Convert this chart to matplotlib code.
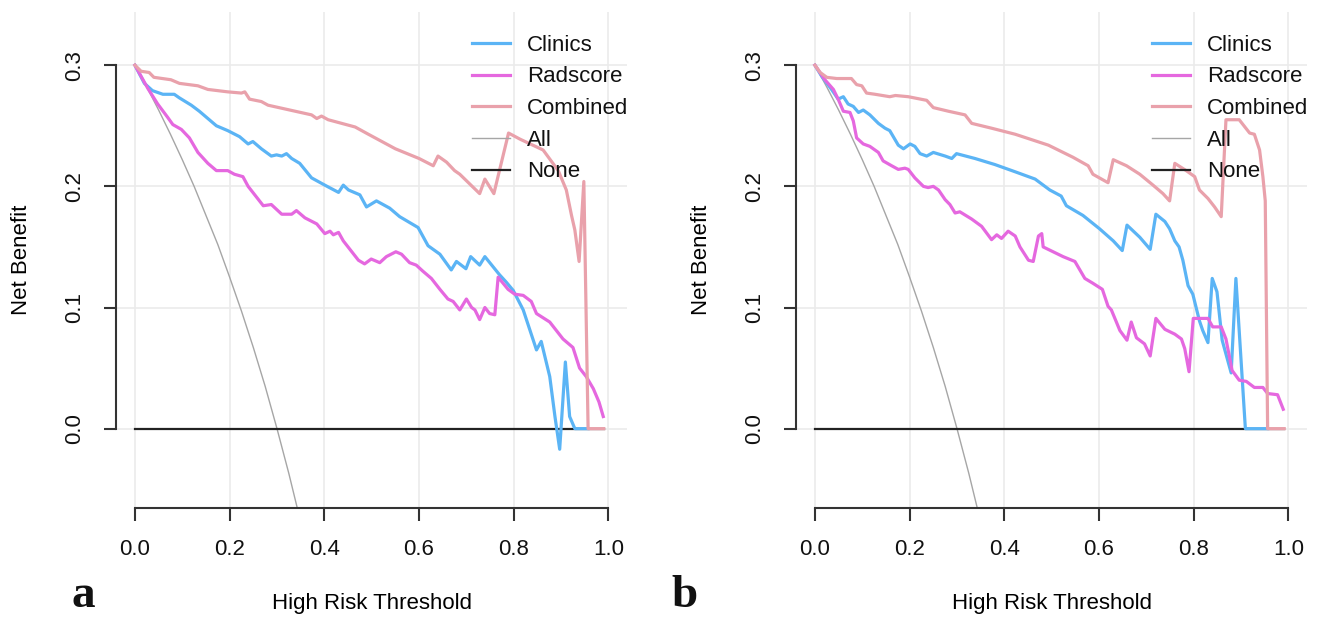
"""Decision curves (net benefit vs. high-risk threshold) for the Clinics,
Radscore and Combined models, panel a and panel b side by side.

Values were read off the published figure by eye.
"""
import matplotlib
matplotlib.use("Agg")
import matplotlib.pyplot as plt

# ---- panel a -------------------------------------------------------------
A_CLIN_THR = [0.000, 0.020, 0.037, 0.059, 0.083, 0.094, 0.119, 0.136, 0.154,
              0.172, 0.196, 0.221, 0.239, 0.249, 0.267, 0.288, 0.299, 0.310,
              0.320, 0.331, 0.348, 0.373, 0.401, 0.430, 0.440, 0.451, 0.475,
              0.489, 0.510, 0.538, 0.559, 0.598, 0.619, 0.644, 0.668, 0.679,
              0.699, 0.709, 0.728, 0.739, 0.770, 0.784, 0.799, 0.820, 0.848,
              0.858, 0.876, 0.887, 0.897, 0.909, 0.918, 0.929, 0.957]
A_CLIN_NB = [0.300, 0.285, 0.279, 0.276, 0.276, 0.273, 0.267, 0.262, 0.256,
             0.250, 0.246, 0.241, 0.235, 0.237, 0.231, 0.225, 0.226, 0.225,
             0.227, 0.223, 0.219, 0.207, 0.201, 0.195, 0.201, 0.197, 0.193,
             0.183, 0.188, 0.182, 0.175, 0.166, 0.151, 0.144, 0.131, 0.138,
             0.132, 0.142, 0.135, 0.142, 0.127, 0.121, 0.114, 0.098, 0.065,
             0.072, 0.043, 0.010, -0.017, 0.055, 0.010, 0.000, 0.000]

A_RAD_THR = [0.000, 0.027, 0.048, 0.069, 0.080, 0.098, 0.115, 0.133, 0.154,
             0.172, 0.196, 0.210, 0.228, 0.239, 0.253, 0.271, 0.288, 0.310,
             0.331, 0.341, 0.359, 0.384, 0.401, 0.412, 0.419, 0.430, 0.440,
             0.454, 0.472, 0.485, 0.499, 0.517, 0.531, 0.551, 0.563, 0.580,
             0.594, 0.608, 0.626, 0.644, 0.661, 0.672, 0.686, 0.700, 0.711,
             0.718, 0.728, 0.739, 0.749, 0.760, 0.767, 0.788, 0.802, 0.820,
             0.837, 0.848, 0.876, 0.904, 0.925, 0.939, 0.953, 0.968, 0.980,
             0.989]
A_RAD_NB = [0.300, 0.281, 0.268, 0.257, 0.251, 0.247, 0.240, 0.228, 0.219,
            0.213, 0.213, 0.210, 0.208, 0.200, 0.193, 0.184, 0.185, 0.177,
            0.177, 0.180, 0.174, 0.169, 0.161, 0.163, 0.160, 0.162, 0.155,
            0.148, 0.139, 0.136, 0.140, 0.137, 0.142, 0.146, 0.144, 0.137,
            0.135, 0.130, 0.124, 0.115, 0.107, 0.105, 0.098, 0.107, 0.100,
            0.098, 0.090, 0.100, 0.095, 0.094, 0.125, 0.115, 0.111, 0.110,
            0.105, 0.095, 0.088, 0.074, 0.067, 0.050, 0.043, 0.033, 0.022,
            0.010]

A_COMB_THR = [0.000, 0.013, 0.030, 0.040, 0.076, 0.094, 0.133, 0.154, 0.196,
              0.225, 0.232, 0.242, 0.267, 0.281, 0.373, 0.384, 0.394, 0.408,
              0.465, 0.493, 0.550, 0.600, 0.630, 0.640, 0.658, 0.675, 0.686,
              0.707, 0.728, 0.739, 0.758, 0.789, 0.813, 0.862, 0.894, 0.911,
              0.922, 0.929, 0.938, 0.948, 0.957, 0.990]
A_COMB_NB = [0.300, 0.295, 0.294, 0.290, 0.288, 0.285, 0.283, 0.280, 0.278,
             0.277, 0.278, 0.272, 0.270, 0.267, 0.259, 0.256, 0.258, 0.255,
             0.249, 0.243, 0.231, 0.223, 0.217, 0.225, 0.220, 0.213, 0.210,
             0.202, 0.194, 0.206, 0.194, 0.244, 0.239, 0.230, 0.213, 0.197,
             0.176, 0.164, 0.138, 0.204, 0.000, 0.000]

# ---- panel b -------------------------------------------------------------
B_CLIN_THR = [0.000, 0.014, 0.035, 0.049, 0.060, 0.070, 0.081, 0.092, 0.102,
              0.116, 0.134, 0.148, 0.158, 0.176, 0.187, 0.201, 0.211, 0.222,
              0.236, 0.250, 0.275, 0.289, 0.299, 0.338, 0.380, 0.423, 0.465,
              0.496, 0.520, 0.531, 0.566, 0.601, 0.630, 0.649, 0.659, 0.686,
              0.708, 0.720, 0.739, 0.749, 0.760, 0.769, 0.777, 0.788, 0.798,
              0.812, 0.819, 0.830, 0.839, 0.849, 0.860, 0.879, 0.889, 0.909,
              0.956]
B_CLIN_NB = [0.300, 0.291, 0.280, 0.272, 0.274, 0.268, 0.266, 0.261, 0.263,
             0.259, 0.252, 0.248, 0.246, 0.234, 0.231, 0.235, 0.233, 0.227,
             0.225, 0.228, 0.225, 0.223, 0.227, 0.223, 0.218, 0.212, 0.206,
             0.197, 0.192, 0.184, 0.176, 0.165, 0.155, 0.147, 0.168, 0.158,
             0.148, 0.177, 0.171, 0.165, 0.155, 0.150, 0.139, 0.118, 0.111,
             0.089, 0.081, 0.071, 0.124, 0.113, 0.073, 0.046, 0.124, 0.000,
             0.000]

B_RAD_THR = [0.000, 0.021, 0.039, 0.049, 0.060, 0.074, 0.081, 0.088, 0.102,
             0.116, 0.134, 0.144, 0.162, 0.176, 0.190, 0.197, 0.211, 0.229,
             0.239, 0.250, 0.261, 0.275, 0.285, 0.296, 0.306, 0.331, 0.352,
             0.373, 0.384, 0.394, 0.408, 0.423, 0.433, 0.451, 0.461, 0.472,
             0.479, 0.482, 0.503, 0.524, 0.549, 0.570, 0.587, 0.607, 0.619,
             0.626, 0.644, 0.659, 0.668, 0.679, 0.696, 0.708, 0.720, 0.739,
             0.760, 0.774, 0.781, 0.790, 0.799, 0.830, 0.840, 0.858, 0.868,
             0.881, 0.896, 0.911, 0.928, 0.946, 0.956, 0.977, 0.989]
B_RAD_NB = [0.300, 0.288, 0.280, 0.272, 0.262, 0.261, 0.254, 0.240, 0.235,
            0.233, 0.228, 0.221, 0.217, 0.214, 0.215, 0.214, 0.207, 0.200,
            0.199, 0.200, 0.197, 0.189, 0.185, 0.178, 0.179, 0.173, 0.167,
            0.156, 0.160, 0.157, 0.163, 0.159, 0.150, 0.139, 0.138, 0.159,
            0.161, 0.150, 0.146, 0.142, 0.138, 0.124, 0.120, 0.115, 0.101,
            0.098, 0.081, 0.073, 0.088, 0.075, 0.070, 0.060, 0.091, 0.082,
            0.078, 0.074, 0.066, 0.047, 0.091, 0.091, 0.084, 0.084, 0.074,
            0.048, 0.040, 0.039, 0.034, 0.034, 0.029, 0.028, 0.016]

B_COMB_THR = [0.000, 0.011, 0.025, 0.046, 0.077, 0.088, 0.099, 0.109, 0.127,
              0.158, 0.170, 0.197, 0.236, 0.250, 0.282, 0.317, 0.331, 0.373,
              0.423, 0.493, 0.545, 0.577, 0.587, 0.619, 0.630, 0.658, 0.686,
              0.714, 0.735, 0.749, 0.760, 0.784, 0.802, 0.812, 0.830, 0.844,
              0.858, 0.868, 0.896, 0.918, 0.928, 0.939, 0.946, 0.951, 0.956,
              0.991]
B_COMB_NB = [0.300, 0.294, 0.290, 0.289, 0.289, 0.284, 0.283, 0.277, 0.276,
             0.274, 0.275, 0.274, 0.271, 0.265, 0.262, 0.259, 0.252, 0.248,
             0.243, 0.234, 0.224, 0.217, 0.210, 0.203, 0.222, 0.217, 0.210,
             0.201, 0.194, 0.188, 0.219, 0.213, 0.208, 0.197, 0.190, 0.183,
             0.175, 0.255, 0.255, 0.244, 0.243, 0.230, 0.208, 0.188, 0.000,
             0.000]

# treat-all and treat-none references (same in both panels)
ALL_THR = [0.000, 0.025, 0.050, 0.075, 0.100, 0.125, 0.150, 0.175, 0.200,
           0.225, 0.250, 0.275, 0.300, 0.325, 0.350]
ALL_NB = [0.300, 0.282, 0.263, 0.243, 0.222, 0.200, 0.176, 0.152, 0.125,
          0.097, 0.067, 0.035, 0.000, -0.037, -0.077]
NONE_THR = [0.00, 0.99]
NONE_NB = [0.0, 0.0]

X_TICKS = [0.0, 0.2, 0.4, 0.6, 0.8, 1.0]
Y_TICKS = [0.0, 0.1, 0.2, 0.3]
LABELS = ["Clinics", "Radscore", "Combined", "All", "None"]
COLORS = ["#5BB4F5", "#E568DF", "#E9A1AB", "#A6A6A6", "#222222"]

plt.rcParams.update({
    "font.family": ["Liberation Sans", "DejaVu Sans"],
    "font.size": 16,
    "text.color": "#111111",
    "xtick.color": "#333333",
    "ytick.color": "#333333",
    "xtick.labelcolor": "#111111",
    "ytick.labelcolor": "#111111",
})

W, H = 1317, 617


def make_panel(ax, curves):
    for x in X_TICKS:
        ax.axvline(x, color="#EBEBEB", lw=1.2, zorder=0)
    for y in Y_TICKS:
        ax.axhline(y, color="#EBEBEB", lw=1.2, zorder=0)

    (cx, cy), (rx, ry), (bx, by) = curves
    ax.plot(ALL_THR, ALL_NB, color=COLORS[3], lw=1.0, label=LABELS[3], zorder=2)
    ax.plot(NONE_THR, NONE_NB, color=COLORS[4], lw=1.6, label=LABELS[4], zorder=2)
    ax.plot(cx, cy, color=COLORS[0], lw=2.3, label=LABELS[0], zorder=3)
    ax.plot(rx, ry, color=COLORS[1], lw=2.3, label=LABELS[1], zorder=3)
    ax.plot(bx, by, color=COLORS[2], lw=2.3, label=LABELS[2], zorder=4)

    ax.set_xlim(-0.04, 1.04)
    ax.set_ylim(-0.0655, 0.344)
    ax.set_xticks(X_TICKS)
    ax.set_xticklabels([f"{v:.1f}" for v in X_TICKS])
    ax.set_yticks(Y_TICKS)
    ax.set_yticklabels([f"{v:.1f}" for v in Y_TICKS], rotation=90, va="center")
    ax.tick_params(axis="both", direction="out", length=9, width=1.5,
                   labelsize=16)
    ax.tick_params(axis="x", pad=13)
    ax.tick_params(axis="y", pad=13)
    for side in ("top", "right"):
        ax.spines[side].set_visible(False)
    ax.spines["left"].set_bounds(0.0, 0.3)
    ax.spines["bottom"].set_bounds(0.0, 1.0)
    for side in ("left", "bottom"):
        ax.spines[side].set_linewidth(1.5)
        ax.spines[side].set_color("#333333")

    ax.set_xlabel("High Risk Threshold", fontsize=16)
    ax.set_ylabel("Net Benefit", fontsize=16)
    ax.xaxis.set_label_coords(0.5, -0.1935)
    ax.xaxis.label.set_va("center")
    ax.yaxis.set_label_coords(-0.185, 0.5)
    ax.yaxis.label.set_va("center")

    handles, labels = ax.get_legend_handles_labels()
    order = [labels.index(lb) for lb in LABELS]
    ax.legend([handles[i] for i in order], [labels[i] for i in order],
              loc="upper left", bbox_to_anchor=(0.696, 0.954),
              frameon=False, borderpad=0, borderaxespad=0,
              handlelength=1.72, handletextpad=0.75, labelspacing=0.48,
              fontsize=16)


def main():
    fig = plt.figure(figsize=(W / 100, H / 100), dpi=100)
    ax_w, ax_h = 511.4 / W, 496.1 / H
    bottom = 109 / H
    ax_a = fig.add_axes([116 / W, bottom, ax_w, ax_h])
    ax_b = fig.add_axes([796 / W, bottom, ax_w, ax_h])

    make_panel(ax_a, [(A_CLIN_THR, A_CLIN_NB), (A_RAD_THR, A_RAD_NB),
                      (A_COMB_THR, A_COMB_NB)])
    make_panel(ax_b, [(B_CLIN_THR, B_CLIN_NB), (B_RAD_THR, B_RAD_NB),
                      (B_COMB_THR, B_COMB_NB)])

    for letter, xpix in (("a", 83), ("b", 685)):
        fig.text(xpix / W, 1 - 607 / H, letter, ha="center", va="baseline",
                 fontsize=34, fontweight="bold",
                 family=["Liberation Serif", "DejaVu Serif"])

    fig.savefig("out.png", dpi=100)
    plt.close(fig)


if __name__ == "__main__":
    main()
